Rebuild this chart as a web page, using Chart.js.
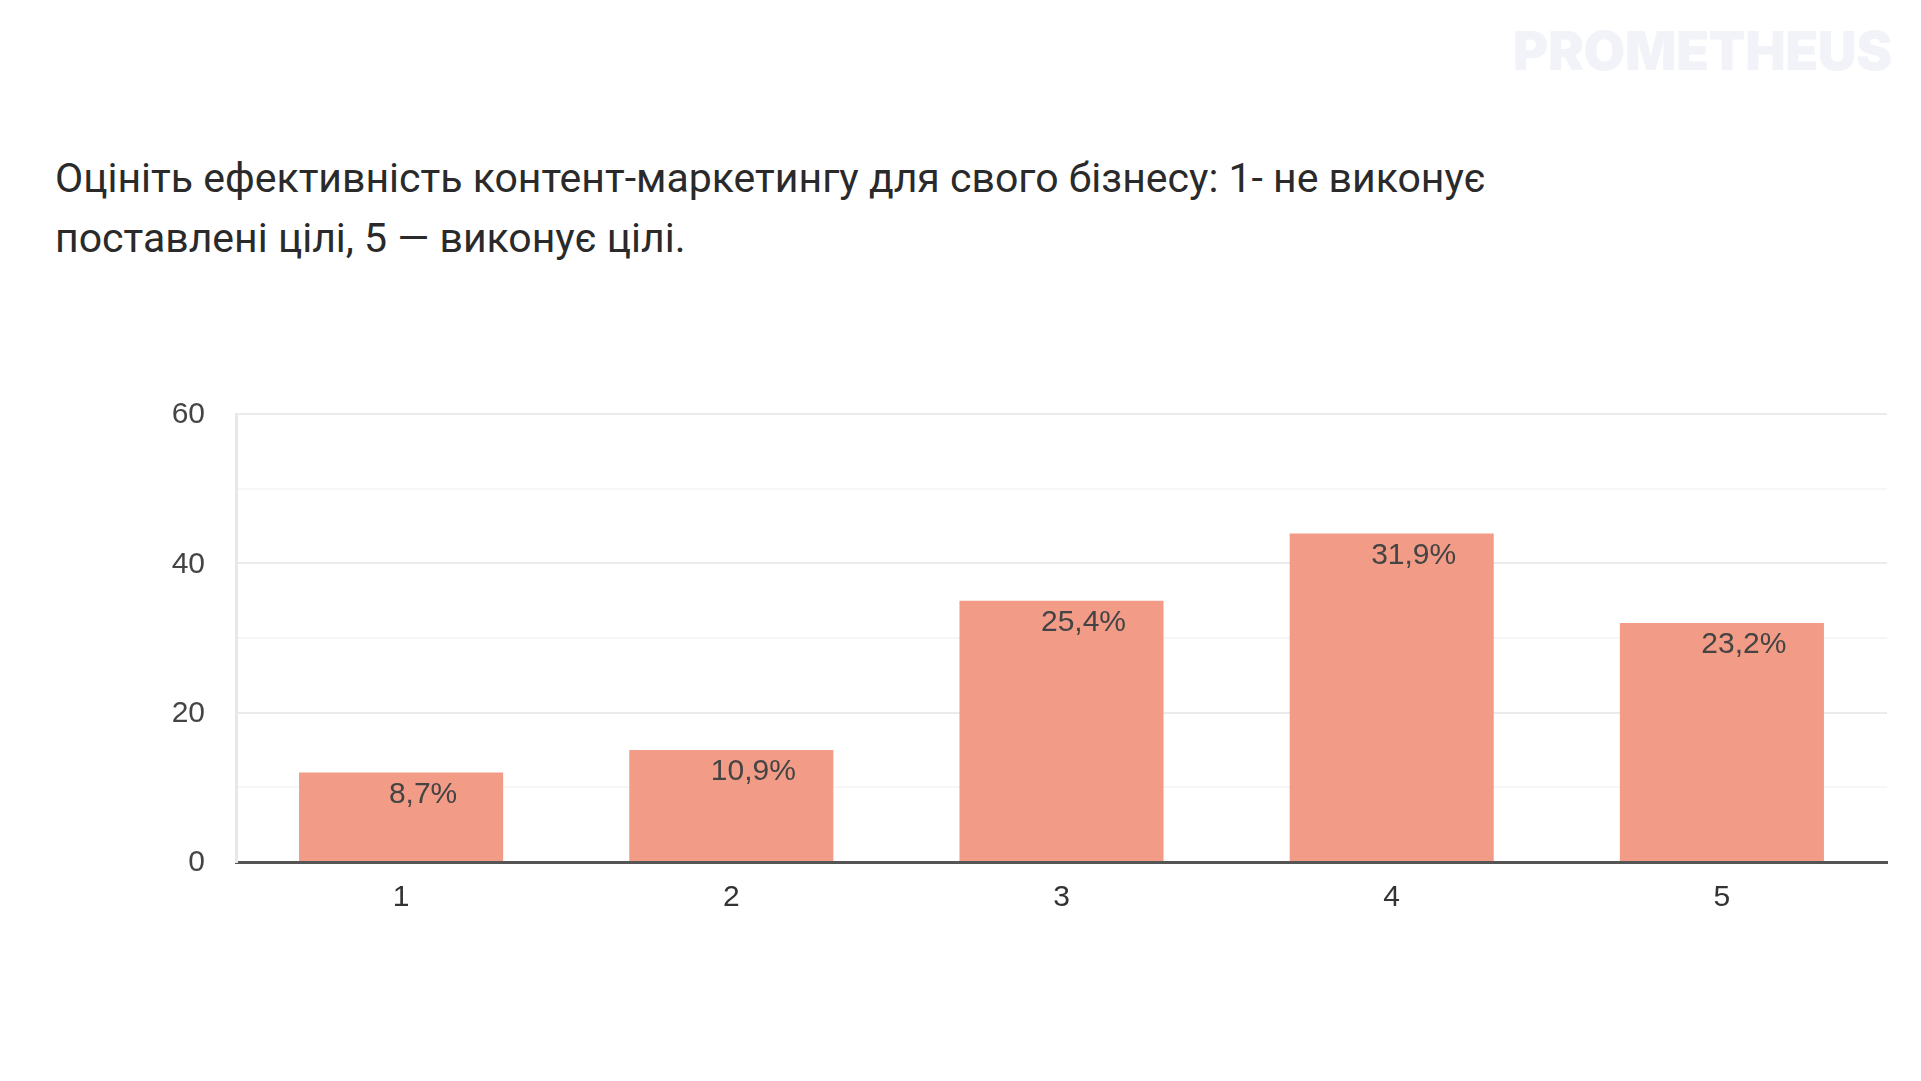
<!DOCTYPE html>
<html>
<head>
<meta charset="utf-8">
<script src="https://cdn.jsdelivr.net/npm/chart.js@4.4.1/dist/chart.umd.min.js"></script>
<style>
  html, body { margin: 0; padding: 0; background: #ffffff; }
  #wrap { position: relative; width: 1921px; height: 1081px; overflow: hidden; background: #fff; }
  #title { position: absolute; left: 55px; top: 148px; font-family: Roboto, "Noto Sans", sans-serif; font-size: 41px; line-height: 60px; color: #2a2a2a; white-space: nowrap; }
  #wm { position: absolute; left: 1513px; top: 18px; font-family: Inter, "DejaVu Sans", sans-serif; font-weight: 900; font-size: 54px; line-height: 66px; color: #f2f3f8; letter-spacing: -0.5px; white-space: nowrap; }
  canvas { position: absolute; left: 0; top: 0; }
</style>
</head>
<body>
<div id="wrap">
  <div id="wm">PROMETHEUS</div>
  <div id="title">Оцініть ефективність контент-маркетингу для свого бізнесу: 1- не виконує<br>поставлені цілі, 5 — виконує цілі.</div>
  <canvas id="c" width="1921" height="1081"></canvas>
</div>
<script>
const categories = ['1', '2', '3', '4', '5'];
const counts = [12, 15, 35, 44, 32];
const percentLabels = ['8,7%', '10,9%', '25,4%', '31,9%', '23,2%'];
const yTickValues = [0, 20, 40, 60];

const chartFont = '"Liberation Sans", Arial, sans-serif';

const barLabelPlugin = {
  id: 'barLabels',
  afterDatasetsDraw(chart) {
    const ctx = chart.ctx;
    const meta = chart.getDatasetMeta(0);
    ctx.save();
    ctx.font = '30px ' + chartFont;
    ctx.fillStyle = '#444444';
    ctx.textAlign = 'center';
    ctx.textBaseline = 'middle';
    meta.data.forEach((bar, i) => {
      ctx.fillText(percentLabels[i], bar.x + 22, bar.y + 22);
    });
    ctx.restore();
  }
};

new Chart(document.getElementById('c'), {
  type: 'bar',
  data: {
    labels: categories,
    datasets: [{
      data: counts,
      backgroundColor: '#f29c88',
      borderWidth: 0,
      categoryPercentage: 1.0,
      barPercentage: 0.618
    }]
  },
  options: {
    responsive: false,
    animation: false,
    layout: { padding: { top: 414, right: 34, bottom: 159, left: 0 } },
    plugins: { legend: { display: false }, tooltip: { enabled: false }, title: { display: false } },
    scales: {
      x: {
        grid: { display: false, drawTicks: false },
        border: { display: true, color: '#555555', width: 3 },
        ticks: { color: '#333333', font: { family: chartFont, size: 30 }, padding: 18 },
        afterFit(scale) { scale.height = 60; }
      },
      y: {
        min: 0, max: 60,
        grid: {
          drawTicks: false,
          color: (c) => (c.tick && c.tick.value % 20 === 0) ? '#ebebeb' : '#f6f6f6',
          lineWidth: 2
        },
        border: { display: true, color: '#e8e8e8', width: 3 },
        ticks: {
          stepSize: 10,
          color: '#444444',
          font: { family: chartFont, size: 30 },
          padding: 31,
          labelOffset: 1,
          callback: (v) => yTickValues.includes(v) ? String(v) : ''
        },
        afterFit(scale) { scale.width = 236; }
      }
    }
  },
  plugins: [barLabelPlugin]
});
</script>
</body>
</html>
